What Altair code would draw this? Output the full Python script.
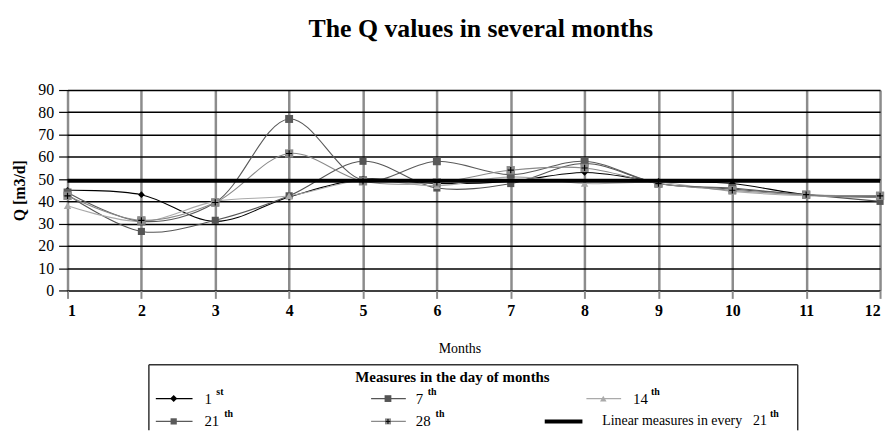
import altair as alt
import pandas as pd

# ---------------- data ----------------
months = list(range(1, 13))
series_names = ["1st", "7th", "14th", "21th", "28th"]
q_1st = [45, 43, 31, 42, 50, 48, 49, 53, 49, 48, 43, 42]
q_7th = [43, 26.5, 31.5, 42.5, 58, 46, 48, 57, 48, 45.5, 43, 40]
q_14th = [38, 31, 40, 42.5, 49.5, 47, 51, 48, 48.5, 44.5, 42.5, 42.5]
q_21th = [44, 31, 39.5, 77, 49.5, 58, 52, 58, 48, 46, 43, 42.5]
q_28th = [42.5, 31.5, 39.5, 61.5, 49, 48.5, 54, 55, 48, 45, 43, 42.5]
linear_q = 49.3
y_ticks = list(range(0, 100, 10))

legend_title = "Measures in the day of months"
legend_base = ["1", "7", "14", "21", "28"]
legend_sup = ["st", "th", "th", "th", "th"]
linear_label = "Linear measures in every"
linear_base = "21"
linear_sup = "th"

# ---------------- styles ----------------
FONT = "Liberation Serif"
line_colors = ["#000000", "#555555", "#aaaaaa", "#5a5a5a", "#8a8a8a"]
marker_colors = ["#000000", "#4a4a4a", "#b4b4b4", "#333333", "#8c8c8c"]
shapes = ["diamond", "square", "triangle-up", "square", "square"]
sizes = [45, 70, 50, 220, 170]
legend_sizes = [50, 36, 36, 100, 100]
PLUS = "M-1,0H1M0,-1V1"

all_q = [q_1st, q_7th, q_14th, q_21th, q_28th]
rows = []
for name, vals in zip(series_names, all_q):
    for m, v in zip(months, vals):
        rows.append({"month": m, "q": v, "series": name})
df = pd.DataFrame(rows)
df_lin = pd.DataFrame({"month": [months[0], months[-1]], "q": [linear_q, linear_q]})
df_plus = df[df["series"] == "28th"]

color_line = alt.Color("series:N", scale=alt.Scale(domain=series_names, range=line_colors), legend=None)
color_mark = alt.Color("series:N", scale=alt.Scale(domain=series_names, range=marker_colors), legend=None)
shape_enc = alt.Shape("series:N", scale=alt.Scale(domain=series_names, range=shapes), legend=None)
size_enc = alt.Size("series:N", scale=alt.Scale(domain=series_names, range=sizes), legend=None)

x_axis = alt.Axis(
    values=months, format="d", grid=True, gridColor="#8c8c8c", gridWidth=2.5,
    domain=False, tickColor="#8c8c8c", tickWidth=2, tickSize=8,
    labelFont=FONT, labelFontSize=16, labelFontWeight="bold", labelColor="#000",
    labelPadding=4, labelOverlap=False, title="Months", titleFont=FONT, titleFontSize=14,
    titleFontWeight="normal", titleColor="#000", titlePadding=24, titleX=395,
)
y_axis = alt.Axis(
    values=y_ticks, grid=True, gridColor="#000", gridWidth=1.5, domain=False,
    tickColor="#000", tickSize=9, tickWidth=1.2, labelFont=FONT, labelFontSize=16,
    labelFontWeight="normal", labelOverlap=False,
    labelColor="#000", labelPadding=5, title="Q [m3/d]", titleFont=FONT,
    titleFontSize=16, titleFontWeight="bold", titleColor="#000", titlePadding=10,
)
x_scale = alt.Scale(domain=[1, 12], nice=False)
y_scale = alt.Scale(domain=[0, 90], nice=False)


def xe():
    return alt.X("month:Q", scale=x_scale, axis=x_axis)


def ye():
    return alt.Y("q:Q", scale=y_scale, axis=y_axis)


lines = alt.Chart(df).mark_line(interpolate="catmull-rom", strokeWidth=1.1).encode(
    x=xe(), y=ye(), color=color_line, detail="series:N"
)
points = alt.Chart(df).mark_point(filled=True, opacity=1).encode(
    x=xe(), y=ye(), color=color_mark, shape=shape_enc, size=size_enc
)
plus = alt.Chart(df_plus).mark_point(shape=PLUS, filled=False, stroke="#000", strokeWidth=1.2, size=40, opacity=1).encode(
    x=xe(), y=ye()
)
lin = alt.Chart(df_lin).mark_line(color="#000", strokeWidth=4).encode(x=xe(), y=ye())

main = alt.layer(lines, points, plus, lin).properties(
    width=819, height=202,
    title=alt.TitleParams(
        "The Q values in several months", font=FONT, fontSize=26, fontWeight="bold",
        color="#000", frame="group", offset=40, dx=7,
    ),
)

# ---------------- legend panel (layout in panel pixels) ----------------
LW, LH = 740, 66
lx = alt.Scale(domain=[0, LW], nice=False, zero=False)
ly = alt.Scale(domain=[0, LH], nice=False, zero=False, reverse=True)

box = pd.DataFrame({"x": [82, 82, 736], "x2": [736, 82, 736], "y": [0, 0, 0], "y2": [0, LH, LH]})
leg = pd.DataFrame({
    "series": series_names,
    "sx1": [89, 306, 523, 89, 306],
    "sx2": [126, 341, 558, 126, 341],
    "mx": [107, 323, 540, 107, 323],
    "y": [34, 34, 34, 57, 57],
    "lx": [138, 351, 570, 138, 351],
    "base": legend_base,
    "supx": [150, 363, 588, 158, 371],
    "sup": legend_sup,
})
leg_texts = pd.DataFrame({
    "x": [539, 691], "y": [57, 57], "t": [linear_label, linear_base]
})
leg_sup2 = pd.DataFrame({"x": [708], "y": [57], "t": [linear_sup]})
leg_lin = pd.DataFrame({"x": [481], "x2": [519], "y": [57]})
leg_title = pd.DataFrame({"x": [388], "y": [12], "t": [legend_title]})
leg_plus = leg[leg["series"] == "28th"]


def X(f):
    return alt.X(f, scale=lx, axis=None)


def Y(f):
    return alt.Y(f, scale=ly, axis=None)


l_box = alt.Chart(box).mark_rule(color="#333", strokeWidth=1.5).encode(
    x=X("x:Q"), x2="x2:Q", y=Y("y:Q"), y2="y2:Q"
)
l_sym = alt.Chart(leg).mark_rule(strokeWidth=1.2).encode(
    x=X("sx1:Q"), x2="sx2:Q", y=Y("y:Q"),
    color=alt.Color("series:N", scale=alt.Scale(domain=series_names, range=line_colors), legend=None),
)
l_mark = alt.Chart(leg).mark_point(filled=True, opacity=1).encode(
    x=X("mx:Q"), y=Y("y:Q"),
    color=alt.Color("series:N", scale=alt.Scale(domain=series_names, range=marker_colors), legend=None),
    shape=alt.Shape("series:N", scale=alt.Scale(domain=series_names, range=shapes), legend=None),
    size=alt.Size("series:N", scale=alt.Scale(domain=series_names, range=legend_sizes), legend=None),
)
l_plus = alt.Chart(leg_plus).mark_point(shape=PLUS, filled=False, stroke="#000", strokeWidth=1, size=25, opacity=1).encode(
    x=X("mx:Q"), y=Y("y:Q")
)
l_base = alt.Chart(leg).mark_text(align="left", baseline="middle", font=FONT, fontSize=15, color="#000").encode(
    x=X("lx:Q"), y=Y("y:Q"), text="base:N"
)
l_sup = alt.Chart(leg).mark_text(align="left", baseline="middle", font=FONT, fontSize=10, fontWeight="bold", color="#000", dy=-7).encode(
    x=X("supx:Q"), y=Y("y:Q"), text="sup:N"
)
l_txt = alt.Chart(leg_texts).mark_text(align="left", baseline="middle", font=FONT, fontSize=14, color="#000").encode(
    x=X("x:Q"), y=Y("y:Q"), text="t:N"
)
l_sup2 = alt.Chart(leg_sup2).mark_text(align="left", baseline="middle", font=FONT, fontSize=10, fontWeight="bold", color="#000", dy=-7).encode(
    x=X("x:Q"), y=Y("y:Q"), text="t:N"
)
l_lin = alt.Chart(leg_lin).mark_rule(color="#000", strokeWidth=4).encode(
    x=X("x:Q"), x2="x2:Q", y=Y("y:Q")
)
l_title = alt.Chart(leg_title).mark_text(align="center", baseline="middle", font=FONT, fontSize=15, fontWeight="bold", color="#000").encode(
    x=X("x:Q"), y=Y("y:Q"), text="t:N"
)

legend_panel = alt.layer(l_box, l_sym, l_lin, l_mark, l_plus, l_base, l_sup, l_txt, l_sup2, l_title).properties(
    width=LW, height=LH
)

chart = alt.vconcat(main, legend_panel, spacing=8).resolve_scale(
    x="independent", y="independent", color="independent", shape="independent", size="independent"
).properties(
    padding={"left": 4, "top": 7, "right": 0, "bottom": 0},
    background="#ffffff",
).configure_view(strokeWidth=0, stroke="transparent", fill="transparent")

chart.save("out.html", embed_options={"renderer": "svg", "actions": False})
